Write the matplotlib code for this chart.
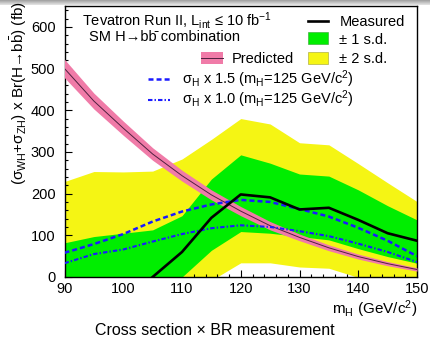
import matplotlib
matplotlib.use("Agg")
import matplotlib.pyplot as plt
import numpy as np
from matplotlib.lines import Line2D
from matplotlib.patches import Rectangle

plt.rcParams['font.family'] = ['Liberation Sans', 'DejaVu Sans']
plt.rcParams['mathtext.fontset'] = 'custom'
plt.rcParams['mathtext.rm'] = 'Liberation Sans'
plt.rcParams['mathtext.it'] = 'Liberation Sans:italic'
plt.rcParams['mathtext.bf'] = 'Liberation Sans:bold'
plt.rcParams['lines.scale_dashes'] = False

# ---- data ----
mass = [90, 95, 100, 105, 110, 115, 120, 125, 130, 135, 140, 145, 150]
measured = [-150, -120, -60, 0, 60, 142, 198, 191, 162, 166, 137, 105, 87]
sd1_low = [-120, -110, -90, -50, 0, 64, 109, 105, 97, 89, 68, 49, 33]
sd1_high = [82, 97, 105, 113, 147, 235, 293, 273, 247, 242, 209, 171, 137]
sd2_low = [-300, -280, -250, -200, -120, -8, 34, 34, 24, 21, -1, -30, -50]
sd2_high = [229, 253, 252, 254, 283, 330, 380, 367, 322, 317, 272, 226, 181]
predicted = [500, 422, 357, 295, 243, 197, 158, 123, 95, 70, 49, 32, 18]
predicted_err = [22, 19, 17, 15, 13, 12, 11, 10, 8, 7, 6, 5, 4]
sig15 = [58, 79, 103, 133, 157, 174, 185, 180, 163, 145, 118, 87, 50]
sig10 = [33, 55, 66, 85, 103, 117, 124, 120, 110, 98, 80, 60, 36]

W, H = 430, 337
fig = plt.figure(figsize=(W / 100, H / 100), dpi=100)
fx = lambda px: px / W
fy = lambda py: 1 - py / H

ax = fig.add_axes([fx(64.5), fy(277), fx(417) - fx(64.5), fy(6) - fy(277)])

m = np.array(mass)
pred = np.array(predicted)
perr = np.array(predicted_err)

yellow = '#f5f514'
green = '#00ee00'
pink = '#f07ba8'
blue = '#1a1aff'

ax.fill_between(m, sd2_low, sd2_high, color=yellow, lw=0, zorder=1)
ax.fill_between(m, sd1_low, sd1_high, color=green, lw=0, zorder=2)
ax.fill_between(m, pred - perr, pred + perr, color=pink, lw=0, zorder=3)
ax.plot(m, pred, color='#502040', lw=0.7, zorder=4)
ax.plot(m, sig10, color=blue, lw=1.5, dashes=(3.2, 1.5, 1.0, 1.5), zorder=5)
ax.plot(m, sig15, color=blue, lw=1.8, dashes=(3.6, 2.2), zorder=6)
ax.plot(m, measured, color='black', lw=1.9, zorder=7)

ax.set_xlim(90, 150)
ax.set_ylim(0, 650)
ax.set_xticks(np.arange(90, 151, 10))
ax.set_xticks(np.arange(90, 151, 2), minor=True)
ax.set_yticks(np.arange(0, 601, 100))
ax.set_yticks(np.arange(0, 651, 20), minor=True)
ax.tick_params(which='both', direction='in', top=False, right=False, width=0.8)
ax.tick_params(which='major', length=5)
ax.tick_params(which='minor', length=2.5)
ax.tick_params(axis='x', which='major', pad=3.5, labelsize=10.5)
ax.tick_params(axis='y', which='major', pad=6.5, labelsize=10.5)
for s in ax.spines.values():
    s.set_linewidth(1.0)

# axis titles
fig.text(fx(417), fy(314), 'm$_{\\rm H}$ (GeV/c$^{2}$)', ha='right', va='baseline', fontsize=11)
fig.text(fx(19), fy(93), '(σ$_{\\rm WH}$+σ$_{\\rm ZH}$) x Br(H→b$\\bar{\\rm b}$) (fb)',
         rotation=90, ha='center', va='center', fontsize=11)
fig.text(fx(215), fy(335), 'Cross section × BR measurement', ha='center', va='baseline', fontsize=11.5)

# legend / labels
LFS = 10.5
fig.text(fx(82), fy(26), 'Tevatron Run II, L$_{\\rm int}$ ≤ 10 fb$^{-1}$', ha='left', va='baseline', fontsize=LFS)
fig.text(fx(89), fy(41), 'SM H→bb\u0304 combination', ha='left', va='baseline', fontsize=LFS)

fig.add_artist(Line2D([fx(308), fx(328)], [fy(20.7), fy(20.7)], color='black', lw=1.9, transform=fig.transFigure))
fig.text(fx(340), fy(25.5), 'Measured', ha='left', va='baseline', fontsize=LFS)
fig.add_artist(Rectangle((fx(308), fy(44)), fx(328) - fx(308), fy(32) - fy(44), facecolor=green,
                         edgecolor='#30a030', lw=0.4, transform=fig.transFigure))
fig.text(fx(339), fy(43.5), '± 1 s.d.', ha='left', va='baseline', fontsize=LFS)
fig.add_artist(Rectangle((fx(308), fy(63.5)), fx(328) - fx(308), fy(52) - fy(63.5), facecolor=yellow,
                         edgecolor='#a0a030', lw=0.4, transform=fig.transFigure))
fig.text(fx(339), fy(63), '± 2 s.d.', ha='left', va='baseline', fontsize=LFS)
fig.add_artist(Rectangle((fx(201), fy(63.5)), fx(223) - fx(201), fy(52) - fy(63.5), facecolor=pink,
                         edgecolor='none', transform=fig.transFigure))
fig.add_artist(Line2D([fx(201), fx(223)], [fy(57.7), fy(57.7)], color='#502040', lw=0.7, transform=fig.transFigure))
fig.text(fx(232), fy(63), 'Predicted', ha='left', va='baseline', fontsize=LFS)
fig.add_artist(Line2D([fx(148), fx(170)], [fy(79), fy(79)], color=blue, lw=1.8, dashes=(3.6, 2.2),
                      transform=fig.transFigure))
fig.text(fx(182), fy(83.5), 'σ$_{\\rm H}$ x 1.5 (m$_{\\rm H}$=125 GeV/c$^{2}$)', ha='left', va='baseline', fontsize=LFS)
fig.add_artist(Line2D([fx(148), fx(170)], [fy(100), fy(100)], color=blue, lw=1.5, dashes=(3.2, 1.5, 1.0, 1.5),
                      transform=fig.transFigure))
fig.text(fx(182), fy(104.5), 'σ$_{\\rm H}$ x 1.0 (m$_{\\rm H}$=125 GeV/c$^{2}$)', ha='left', va='baseline', fontsize=LFS)

# top grey strip (screenshot chrome)
sax = fig.add_axes([0, fy(5), 1, fy(0) - fy(5)])
grad = np.linspace(0.62, 0.9, 20).reshape(-1, 1)
sax.imshow(grad, cmap='gray', vmin=0, vmax=1, aspect='auto', extent=[0, 1, 0, 1])
sax.axis('off')

fig.savefig('out.png', dpi=100)
